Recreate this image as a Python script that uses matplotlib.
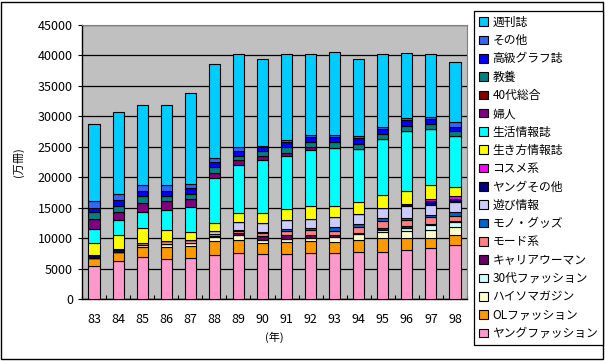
import numpy as np
import matplotlib
matplotlib.use("Agg")
from matplotlib import pyplot as plt
from matplotlib.patches import Patch, Rectangle

plt.rcParams['font.family'] = ['Noto Sans CJK JP', 'DejaVu Sans']

# years on the x axis
years = ["83", "84", "85", "86", "87", "88", "89", "90",
         "91", "92", "93", "94", "95", "96", "97", "98"]

# series, bottom of the stack first (unit: 万冊)
young_fashion = [5500, 6290, 6850, 6620, 6680, 7175, 7500, 7340, 7340, 7500, 7500, 7670, 7770, 8000, 8330, 8820]
ol_fashion = [1300, 1480, 1640, 1920, 1970, 2350, 2190, 1910, 2070, 1975, 1810, 2020, 2200, 1975, 1640, 1740]
high_society = [0, 0, 460, 445, 540, 595, 790, 500, 490, 545, 875, 1000, 1110, 1200, 1360, 1200]
fashion_30s = [0, 0, 0, 0, 0, 0, 0, 0, 0, 0, 0, 0, 200, 540, 770, 820]
career_woman = [0, 0, 0, 0, 0, 200, 300, 550, 560, 440, 280, 100, 330, 230, 220, 270]
mode_kei = [0, 0, 250, 490, 500, 400, 400, 500, 760, 900, 760, 1035, 1150, 980, 1150, 820]
goods = [0, 0, 0, 0, 0, 0, 150, 200, 325, 250, 600, 445, 490, 330, 280, 560]
leisure = [0, 0, 0, 0, 0, 450, 1315, 1430, 1425, 1530, 1595, 1640, 1645, 1970, 1645, 1740]
young_other = [400, 440, 0, 0, 0, 0, 0, 0, 0, 0, 0, 0, 0, 330, 700, 490]
cosme = [0, 0, 0, 0, 0, 0, 0, 0, 0, 0, 0, 0, 0, 0, 330, 400]
ikikata = [1970, 2250, 2410, 1805, 1260, 1260, 1425, 1640, 1760, 2130, 1910, 1970, 2135, 2140, 2250, 1475]
seikatsu = [2300, 2460, 2730, 3335, 4210, 7390, 7890, 8810, 8700, 9150, 9520, 8810, 9300, 9950, 9300, 8375]
fujin = [1650, 1420, 1480, 1480, 1215, 820, 820, 550, 500, 490, 0, 0, 0, 0, 0, 0]
sogo_40s = [0] * 16
kyoyo = [1150, 990, 1050, 775, 925, 990, 700, 820, 980, 820, 880, 820, 720, 820, 770, 820]
graph = [700, 880, 820, 920, 880, 820, 820, 710, 820, 870, 920, 880, 820, 940, 820, 660]
sonota = [1150, 980, 980, 880, 710, 660, 610, 170, 380, 330, 270, 330, 330, 330, 380, 820]
weekly = [12590, 13460, 13270, 13270, 14980, 15550, 15360, 14330, 14160, 13340, 13670, 12740, 12070, 10700, 10330, 9970]

series = [
    ("ヤングファッション", young_fashion, "#FF99CC"),
    ("OLファッション", ol_fashion, "#FF9900"),
    ("ハイソマガジン", high_society, "#FFFFCC"),
    ("30代ファッション", fashion_30s, "#CCFFFF"),
    ("キャリアウーマン", career_woman, "#660066"),
    ("モード系", mode_kei, "#FF8080"),
    ("モノ・グッズ", goods, "#0066CC"),
    ("遊び情報", leisure, "#CCCCFF"),
    ("ヤングその他", young_other, "#000080"),
    ("コスメ系", cosme, "#FF00FF"),
    ("生き方情報誌", ikikata, "#FFFF00"),
    ("生活情報誌", seikatsu, "#00FFFF"),
    ("婦人", fujin, "#800080"),
    ("40代総合", sogo_40s, "#800000"),
    ("教養", kyoyo, "#008080"),
    ("高級グラフ誌", graph, "#0000FF"),
    ("その他", sonota, "#3366FF"),
    ("週刊誌", weekly, "#00CCFF"),
]

fig = plt.figure(figsize=(6.05, 3.61), dpi=100)
ax = fig.add_axes([82 / 605, 1 - 299 / 361, 385 / 605, 274 / 361])
ax.set_facecolor("#C0C0C0")

x = np.arange(len(years))
bottom = np.zeros(len(years))
for name, vals, col in series:
    vals = np.array(vals, dtype=float)
    ax.bar(x, vals, bottom=bottom, width=0.46, color=col,
           edgecolor="black", linewidth=0.8, zorder=3)
    bottom += vals

ax.set_xlim(-0.5, len(years) - 0.5)
ax.set_ylim(0, 45000)
ax.set_yticks(np.arange(0, 45001, 5000))
ax.yaxis.grid(True, color="black", linewidth=0.9, zorder=1)
ax.set_axisbelow(True)
ax.tick_params(axis="y", direction="out", length=3, labelsize=9, width=0.8)
ax.set_xticks(x)
ax.set_xticklabels(years)
ax.tick_params(axis="x", length=0, labelsize=9, pad=10)
ax.set_xticks(np.arange(-0.5, len(years), 1), minor=True)
ax.tick_params(axis="x", which="minor", direction="in", length=3, width=0.8)
for s in ["left", "bottom"]:
    ax.spines[s].set_color("black")
    ax.spines[s].set_linewidth(1.0)
for s in ["top", "right"]:
    ax.spines[s].set_color("#808080")
    ax.spines[s].set_linewidth(0.8)

ax.set_ylabel("(万冊)", fontsize=8, labelpad=10)
ax.set_xlabel("(年)", fontsize=8, labelpad=4)

handles = [Patch(facecolor=col, edgecolor="black", linewidth=0.8)
           for name, vals, col in series][::-1]
labels = [name for name, vals, col in series][::-1]
leg = fig.legend(handles, labels, loc="upper left",
                 bbox_to_anchor=(474 / 605, 1 - 11 / 361),
                 fontsize=8.5, frameon=True, fancybox=False,
                 edgecolor="black", framealpha=1, borderpad=0.4,
                 labelspacing=0.45, handlelength=0.75, handleheight=0.75,
                 handletextpad=0.4, borderaxespad=0)
leg.get_frame().set_linewidth(0.9)

fig.patches.append(Rectangle((1 / 605, 2 / 361), 602 / 605, 357 / 361,
                             transform=fig.transFigure, fill=False,
                             edgecolor="black", linewidth=1.0))

fig.savefig("out.png", dpi=100)
